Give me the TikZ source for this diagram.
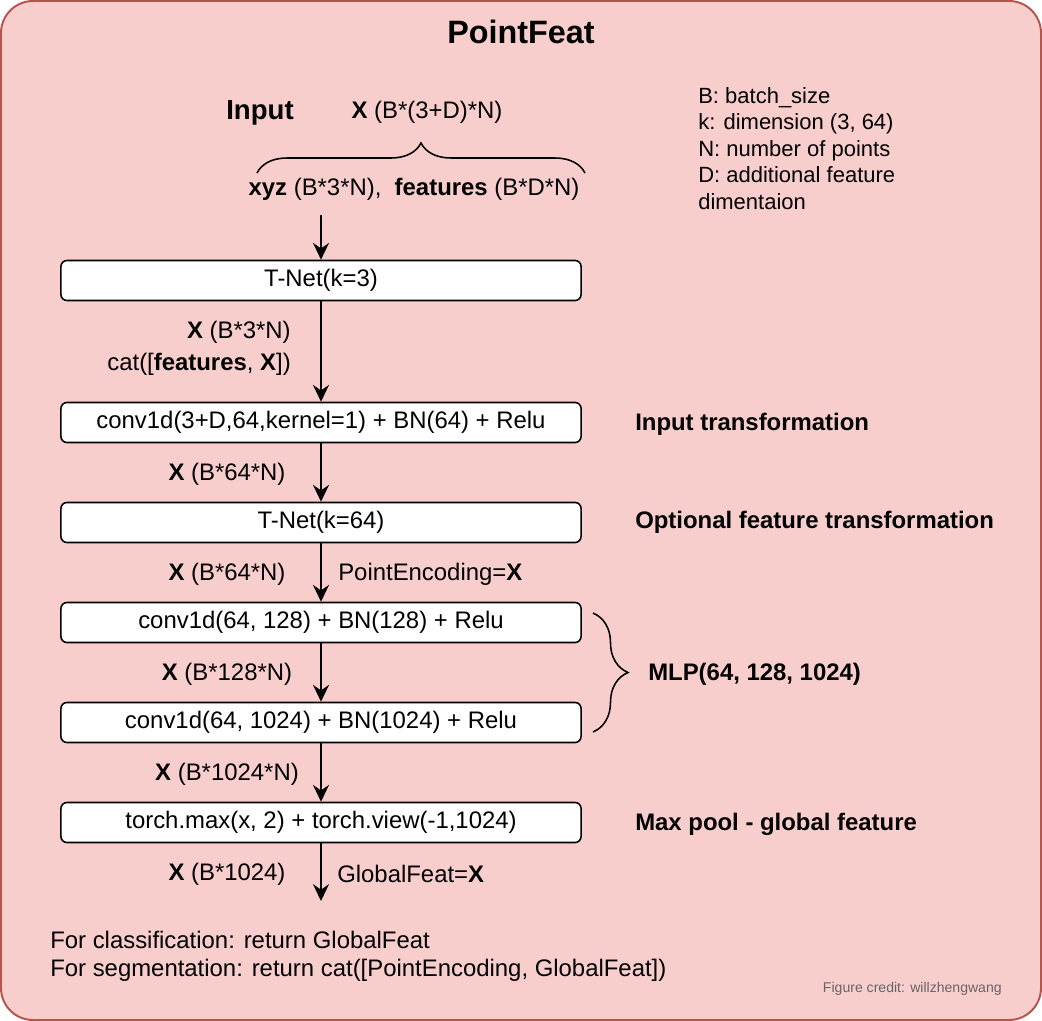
\documentclass[tikz,border=0pt]{standalone}
\usepackage{fontspec}
\setmainfont{Liberation Sans}
\usetikzlibrary{arrows.meta,decorations.pathreplacing}
\definecolor{featfill}{HTML}{F8CECC}
\definecolor{featline}{HTML}{B85450}
\definecolor{creditgray}{HTML}{666666}

\begin{document}
\begin{tikzpicture}[x=0.025cm, y=-0.025cm,
        layer/.style={draw, fill=white, rounded corners=0.15cm, line width=1.1pt, minimum width=13cm, minimum height=1cm, inner sep=0pt, font=\fontsize{17}{20}\selectfont},
        txt/.style={inner sep=0pt, yshift=-0.05cm, font=\fontsize{17}{20}\selectfont},
        head/.style={inner sep=0pt, yshift=-0.05cm, font=\fontsize{17}{20}\selectfont\bfseries},
        flow/.style={-{Stealth[length=0.42cm, width=0.4cm]}, line width=1.1pt},
        curly/.style={decorate, decoration={brace, amplitude=#1}, line width=1.1pt}]
            \useasboundingbox (0,0) rectangle (1042,1021);
            \draw[featline, fill=featfill, line width=1.4pt, rounded corners=0.8cm] (1,1) rectangle (1041,1020);

            \node[inner sep=0pt, font=\fontsize{23}{27}\selectfont\bfseries] (title) at (521,32) {PointFeat};

            % input and legend
            \node[inner sep=0pt, yshift=-0.07cm, font=\fontsize{19.6}{23}\selectfont\bfseries] (inlbl) at (260,110) {Input};
            \node[txt] (xin) at (427,110) {\textbf{X} (B*(3+D)*N)};
            \node[txt] (split) at (414,187) {\textbf{xyz} (B*3*N),\ \ \textbf{features} (B*D*N)};
            \draw[curly=0.75cm] (257,173) -- (585,173);
            \node[anchor=north west, align=left, inner sep=0pt, font=\fontsize{15.65}{18.85}\selectfont] (legend) at (698,87)
                {B: batch\_size\\k: dimension (3, 64)\\N: number of points\\D: additional feature\\dimentaion};

            % layers
            \node[layer] (tnet3) at (321,280.5) {T-Net(k=3)};
            \node[layer] (conv0) at (321,422.5) {conv1d(3+D,64,kernel=1) + BN(64) + Relu};
            \node[layer] (tnet64) at (321,522.5) {T-Net(k=64)};
            \node[layer] (conv1) at (321,622.5) {conv1d(64, 128) + BN(128) + Relu};
            \node[layer] (conv2) at (321,722.5) {conv1d(64, 1024) + BN(1024) + Relu};
            \node[layer] (pool) at (321,822.5) {torch.max(x, 2) + torch.view(-1,1024)};

            \coordinate (top) at (321,215);
            \coordinate (out) at (321,901);
            \draw[flow] (top) -- (tnet3);
            \draw[flow] (tnet3) -- (conv0);
            \draw[flow] (conv0) -- (tnet64);
            \draw[flow] (tnet64) -- (conv1);
            \draw[flow] (conv1) -- (conv2);
            \draw[flow] (conv2) -- (pool);
            \draw[flow] (pool) -- (out);

            % shapes along the arrows
            \node[txt, anchor=east] (x3) at (291,330) {\textbf{X} (B*3*N)};
            \node[txt, anchor=east] (cat) at (291,362) {cat([\textbf{features}, \textbf{X}])};
            \node[txt] (x64a) at (227,472) {\textbf{X} (B*64*N)};
            \node[txt] (x64b) at (227,572) {\textbf{X} (B*64*N)};
            \node[txt, anchor=west] (penc) at (338,572) {PointEncoding=\textbf{X}};
            \node[txt] (x128) at (227,672) {\textbf{X} (B*128*N)};
            \node[txt] (x1024) at (227,772) {\textbf{X} (B*1024*N)};
            \node[txt] (xg) at (227,872) {\textbf{X} (B*1024)};
            \node[txt, anchor=west] (gfeat) at (337,872) {GlobalFeat=\textbf{X}};

            % stage names
            \node[head, anchor=west] (intr) at (635,422) {Input transformation};
            \node[head, anchor=west] (optr) at (635,520) {Optional feature transformation};
            \draw[curly=0.875cm] (593,613) -- (593,732);
            \node[head, anchor=west] (mlp) at (648,672) {MLP(64, 128, 1024)};
            \node[head, anchor=west] (maxp) at (635,822) {Max pool - global feature};

            \node[txt, anchor=west] (cls) at (50,938) {For classification: return GlobalFeat};
            \node[txt, anchor=west] (seg) at (50,968) {For segmentation: return cat([PointEncoding, GlobalFeat])};
            \node[inner sep=0pt, anchor=east, text=creditgray, font=\fontsize{10}{12}\selectfont] (credit) at (1002,989) {Figure credit: willzhengwang};
        \end{tikzpicture}
\end{document}
